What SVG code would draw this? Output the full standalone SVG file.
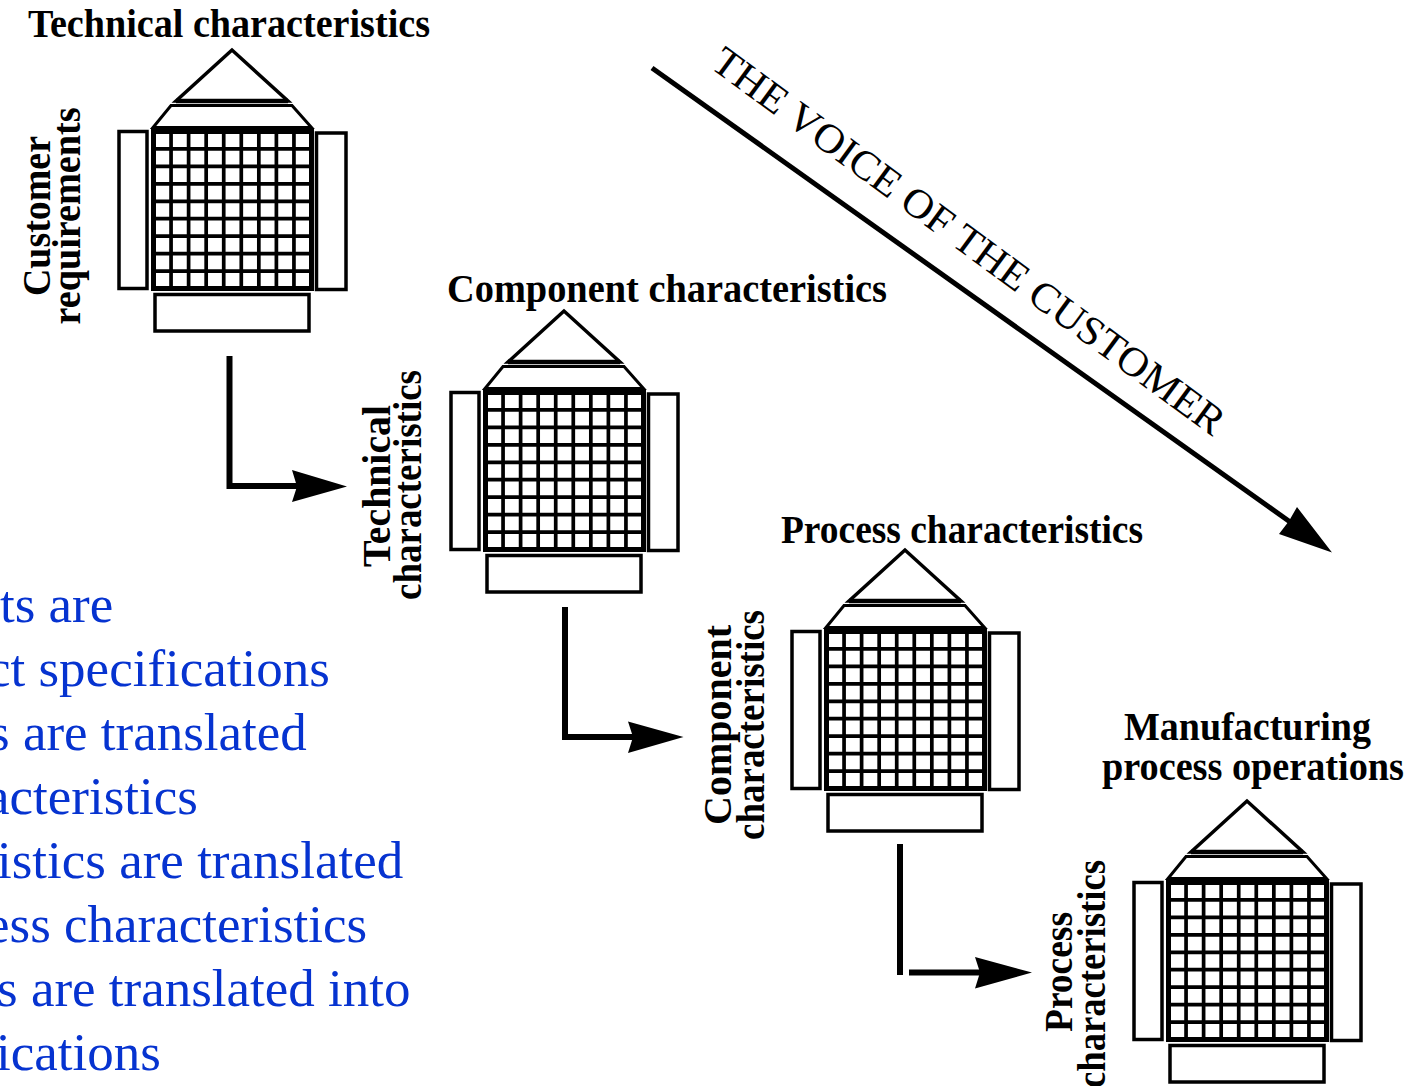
<svg xmlns="http://www.w3.org/2000/svg" xmlns:xlink="http://www.w3.org/1999/xlink" width="1422" height="1086" viewBox="0 0 1422 1086">
  <style>
    .roof { fill: #fff; stroke: #000; stroke-width: 3.5; stroke-linejoin: miter; }
    .band { fill: #fff; stroke: #000; stroke-width: 3; stroke-linejoin: miter; }
    .room { fill: #fff; stroke: #000; stroke-width: 3.5; }
    .matrix { fill: #fff; stroke: #000; stroke-width: 5; }
    .grid { fill: none; stroke: #000; stroke-width: 3.7; }
    .title { font-family: "Liberation Serif", "Times New Roman", serif; font-weight: bold; font-size: 40px; fill: #000; }
    .side { font-family: "Liberation Serif", "Times New Roman", serif; font-weight: bold; font-size: 41px; fill: #000; text-anchor: middle; }
    .voice { font-family: "Liberation Serif", "Times New Roman", serif; font-size: 41px; fill: #000; }
    .note { font-family: "Liberation Serif", "Times New Roman", serif; font-size: 53px; fill: #0633d0; }
    .flow { fill: none; stroke: #000; stroke-width: 6; }
    .head { fill: #000; stroke: none; }
  </style>

  <defs>
    <!-- one house of quality: roof, correlation band, relationship matrix, side and base panels -->
    <g id="qfd-house">
      <polygon class="roof" points="232,50 176,101 288,101"/>
      <line x1="176" y1="101" x2="288" y2="101" stroke="#000" stroke-width="4.5"/>
      <polygon class="band" points="171,105.5 292,105.5 311.5,127.5 153,127.5"/>
      <rect class="room" x="119" y="131.5" width="28" height="157"/>
      <rect class="room" x="316.5" y="133" width="29.5" height="156.5"/>
      <rect class="matrix" x="153.5" y="131.5" width="158" height="157"/>
      <path class="grid" d="M171.06,131.5V288.5M188.61,131.5V288.5M206.17,131.5V288.5M223.72,131.5V288.5M241.28,131.5V288.5M258.83,131.5V288.5M276.39,131.5V288.5M293.94,131.5V288.5M153.5,148.94H311.5M153.5,166.39H311.5M153.5,183.83H311.5M153.5,201.28H311.5M153.5,218.72H311.5M153.5,236.17H311.5M153.5,253.61H311.5M153.5,271.06H311.5"/>
      <rect class="room" x="155" y="294.5" width="154" height="36.5"/>
    </g>
  </defs>

  <rect width="1422" height="1086" fill="#fff"/>

  <!-- explanatory notes, running off the left edge -->
  <g id="notes">
    <text class="note" x="0" y="622">ts are</text>
    <text class="note" x="-13" y="686">ct specifications</text>
    <text class="note" x="-11" y="750">s are translated</text>
    <text class="note" x="-14" y="814">acteristics</text>
    <text class="note" x="-3" y="878">istics are translated</text>
    <text class="note" x="-14" y="942">ess characteristics</text>
    <text class="note" x="-3" y="1006">s are translated into</text>
    <text class="note" x="-4" y="1070">ications</text>
  </g>

  <!-- connectors -->
  <g id="connectors">
    <path class="flow" d="M229.5,356V486H300"/>
    <polygon class="head" points="292,470 347,486.5 292,502 297,486.5"/>

    <path class="flow" d="M565,607V737H636"/>
    <polygon class="head" points="628,721.5 683.5,737 628,753 633,737"/>

    <path class="flow" d="M900,844V975"/>
    <path class="flow" d="M909,972.5H982" stroke-width="5"/>
    <polygon class="head" points="975,957 1032,972.5 975,988.5 980,972.5"/>

    <line x1="652" y1="68" x2="1300" y2="529" stroke="#000" stroke-width="5"/>
    <polygon class="head" points="1332,552.5 1279,534 1289,521 1297,507"/>
  </g>

  <g id="voice-label">
    <text class="voice" transform="translate(709,67) rotate(36.3)" textLength="625" lengthAdjust="spacingAndGlyphs">THE VOICE OF THE CUSTOMER</text>
  </g>

  <!-- house 1: customer requirements -> technical characteristics -->
  <g id="house-1">
    <use xlink:href="#qfd-house" href="#qfd-house"/>
    <text class="title" x="28" y="37" textLength="402" lengthAdjust="spacingAndGlyphs">Technical characteristics</text>
    <text class="side" transform="translate(50,216) rotate(-90)" textLength="160" lengthAdjust="spacingAndGlyphs">Customer</text>
    <text class="side" transform="translate(80,216) rotate(-90)" textLength="217" lengthAdjust="spacingAndGlyphs">requirements</text>
  </g>

  <!-- house 2: technical -> component characteristics -->
  <g id="house-2">
    <use xlink:href="#qfd-house" href="#qfd-house" transform="translate(332,261)"/>
    <text class="title" x="447" y="302" textLength="440" lengthAdjust="spacingAndGlyphs">Component characteristics</text>
    <text class="side" transform="translate(390,486) rotate(-90)" textLength="162" lengthAdjust="spacingAndGlyphs">Technical</text>
    <text class="side" transform="translate(421,485) rotate(-90)" textLength="230" lengthAdjust="spacingAndGlyphs">characteristics</text>
  </g>

  <!-- house 3: component -> process characteristics -->
  <g id="house-3">
    <use xlink:href="#qfd-house" href="#qfd-house" transform="translate(673,500)"/>
    <text class="title" x="781" y="543" textLength="362" lengthAdjust="spacingAndGlyphs">Process characteristics</text>
    <text class="side" transform="translate(731,725) rotate(-90)" textLength="200" lengthAdjust="spacingAndGlyphs">Component</text>
    <text class="side" transform="translate(764,725) rotate(-90)" textLength="230" lengthAdjust="spacingAndGlyphs">characteristics</text>
  </g>

  <!-- house 4: process characteristics -> manufacturing operations -->
  <g id="house-4">
    <use xlink:href="#qfd-house" href="#qfd-house" transform="translate(1015,751)"/>
    <text class="title" x="1124" y="740" textLength="247" lengthAdjust="spacingAndGlyphs">Manufacturing</text>
    <text class="title" x="1102" y="780" textLength="302" lengthAdjust="spacingAndGlyphs">process operations</text>
    <text class="side" transform="translate(1072,972) rotate(-90)" textLength="120" lengthAdjust="spacingAndGlyphs">Process</text>
    <text class="side" transform="translate(1105,974) rotate(-90)" textLength="228" lengthAdjust="spacingAndGlyphs">characteristics</text>
  </g>
</svg>
